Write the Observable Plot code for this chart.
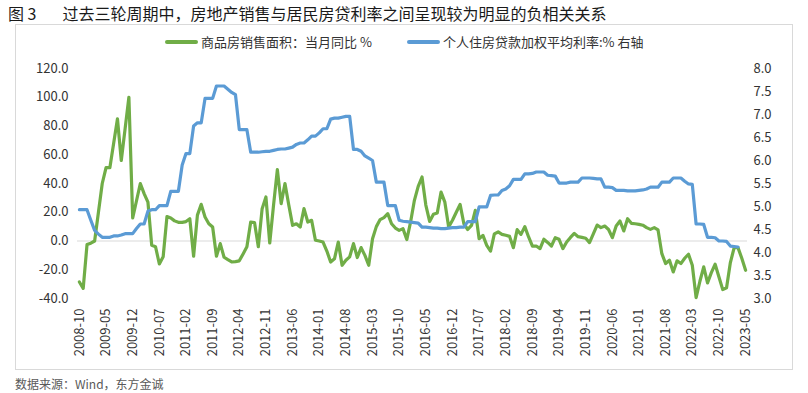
<!DOCTYPE html>
<html>
<head>
<meta charset="utf-8">
<script src="https://cdn.jsdelivr.net/npm/d3@7"></script>
<script src="https://cdn.jsdelivr.net/npm/@observablehq/plot@0.6"></script>
<style>
  html, body { margin: 0; padding: 0; background: #fff; width: 808px; height: 393px; overflow: hidden; }
  body { position: relative; font-family: "Noto Sans CJK SC", "Noto Sans", sans-serif; }
  #title { position: absolute; left: 8px; top: 3px; font-size: 16px; line-height: 20px; color: #1a1a1a; white-space: nowrap; }
  #frame { position: absolute; left: 15px; top: 24px; width: 778px; height: 346px; box-sizing: border-box; border: 1px solid #d9d9d9; }
  #legend { position: absolute; left: 165px; top: 33px; font-size: 13px; line-height: 18px; color: #333; display: flex; align-items: center; white-space: nowrap; }
  .sw { display: inline-block; width: 33px; height: 4px; border-radius: 2px; margin-right: 3px; }
  #chart { position: absolute; left: 0; top: 50px; }
  #source { position: absolute; left: 15px; top: 376px; font-size: 12px; line-height: 15px; color: #595959; white-space: nowrap; }
</style>
</head>
<body>
<div id="title">图 3<span style="margin-left:26px">过去三轮周期中，房地产销售与居民房贷利率之间呈现较为明显的负相关关系</span></div>
<div id="frame"></div>
<div id="legend">
  <span class="sw" style="background:#70AD47"></span><span>商品房销售面积：当月同比 %</span>
  <span class="sw" style="background:#5B9BD5;margin-left:35px"></span><span>个人住房贷款加权平均利率:% 右轴</span>
</div>
<div id="chart"></div>
<div id="source">数据来源：Wind，东方金诚</div>
<script>
// Monthly series, 2008-10 .. 2023-05 (index 0 = 2008-10)
const salesYoY = [
  -28.5,-33,-2.5,-1.5,0,20,40,51,51,68,
  85,56,78,100,16,28,40,33,27,-3,
  -4,-16,-11,17,16,14,13,13,13.5,15.5,
  -10.6,18,25.5,16.7,12,9.7,-10.6,-1.8,-11.3,-13,
  -14.6,-14.3,-13.8,-9,-4,13.2,12.8,-4,22.5,30.6,
  -1.4,25,49.7,26,40,25,10.9,12,9.7,22.5,
  13.2,14.4,0.5,0,-0.7,-7,-14.6,-12.4,-0.7,-16.9,
  -13.4,-11,-1.8,-11.5,-4.6,-10,-16.9,1.6,10,14.9,
  16.3,19,12,9,7.4,8.6,1,13.2,28.3,38,
  44.5,25,13.6,18.6,19.5,34,27,9.7,14.4,20,
  25.5,12,8,10.9,21.3,1.6,3.9,-3,-7,5,
  6.3,4.6,4,3.2,-4.6,7.9,4.6,10,2.8,-3.5,
  -3.5,-5.3,1.2,-1,-3.5,2.3,1.2,-5.3,-0.7,2.5,
  5.3,3,2.5,1.9,-1.1,5,11.1,9.3,10.4,8,
  2.3,10.4,13.9,7,15.5,12.3,12,11.6,11,9.3,
  8.1,9.3,7.7,-8.8,-15.7,-13.4,-21.5,-13.8,-15.7,-12,
  -9.2,-16.9,-39.4,-28,-18,-29.2,-22,-16.2,-25,-33.8,
  -32.5,-15,-4.6,-4.6,-12,-20.4
];
// Mortgage weighted average rate (%), 2008-10 .. 2023-03
const mortgageRate = [
  4.93,4.93,4.93,4.70,4.48,4.40,4.33,4.33,4.33,4.36,
  4.36,4.38,4.41,4.41,4.41,4.52,4.62,4.62,4.90,4.93,
  4.93,5.02,5.02,5.02,5.33,5.33,5.33,5.90,6.15,6.15,
  6.75,6.82,6.82,7.35,7.35,7.35,7.62,7.62,7.62,7.55,
  7.48,7.43,6.67,6.67,6.67,6.18,6.18,6.18,6.19,6.20,
  6.20,6.22,6.24,6.25,6.25,6.27,6.29,6.35,6.38,6.38,
  6.45,6.53,6.53,6.60,6.69,6.69,6.90,6.92,6.92,6.94,
  6.96,6.96,6.24,6.24,6.20,6.10,6.05,6.00,5.53,5.53,
  5.53,5.02,5.02,5.02,4.70,4.68,4.67,4.66,4.65,4.64,
  4.55,4.55,4.54,4.53,4.53,4.52,4.52,4.53,4.54,4.54,
  4.55,4.55,4.67,4.67,4.67,4.99,4.99,4.99,5.24,5.25,
  5.25,5.35,5.38,5.45,5.59,5.59,5.59,5.71,5.71,5.72,
  5.75,5.75,5.75,5.68,5.67,5.66,5.51,5.51,5.51,5.53,
  5.53,5.53,5.62,5.62,5.62,5.61,5.60,5.60,5.42,5.42,
  5.41,5.35,5.35,5.35,5.34,5.34,5.34,5.35,5.36,5.38,
  5.42,5.42,5.42,5.53,5.53,5.53,5.62,5.62,5.62,5.55,
  5.49,5.48,4.62,4.62,4.61,4.33,4.33,4.32,4.25,4.25,
  4.24,4.14,4.13,4.12
];
const xTickLabels = ["2008-10","2009-05","2009-12","2010-07","2011-02","2011-09","2012-04","2012-11",
  "2013-06","2014-01","2014-08","2015-03","2015-10","2016-05","2016-12","2017-07","2018-02","2018-09",
  "2019-04","2019-11","2020-06","2021-01","2021-08","2022-03","2022-10","2023-05"];
const leftTicks = [-40,-20,0,20,40,60,80,100,120];
const rightTicks = [3.0,3.5,4.0,4.5,5.0,5.5,6.0,6.5,7.0,7.5,8.0];

// right axis (3..8) mapped onto left axis (-40..120)
const toLeft = r => (r - 3) * 32 - 40;
const toRight = l => (l + 40) / 32 + 3;
const tickStep = 7;
const xTickPos = xTickLabels.map((_, k) => k * tickStep);

const chart = Plot.plot({
  width: 808,
  height: 320,
  marginTop: 18,
  marginBottom: 72,
  marginLeft: 77,
  marginRight: 61,
  style: { background: "transparent", fontFamily: "'Noto Sans CJK SC','Noto Sans',sans-serif", fontSize: "13px", color: "#333", overflow: "visible" },
  x: { type: "linear", domain: [-0.5, salesYoY.length - 0.5] },
  y: { domain: [-40, 120] },
  marks: [
    Plot.ruleY([0], { stroke: "#d9d9d9", strokeWidth: 1 }),
    Plot.axisY(leftTicks, { anchor: "left", tickSize: 0, tickPadding: 9, tickFormat: d => d.toFixed(1), label: null, fontSize: 13 }),
    Plot.axisY(rightTicks.map(toLeft), { anchor: "right", tickSize: 0, tickPadding: 6, tickFormat: d => toRight(d).toFixed(1), label: null, fontSize: 13 }),
    Plot.axisX(xTickPos, { anchor: "bottom", tickSize: 0, tickPadding: 10, tickRotate: -90, tickFormat: d => xTickLabels[Math.round(d / tickStep)], label: null, fontSize: 13 }),
    Plot.lineY(salesYoY, { stroke: "#70AD47", strokeWidth: 3.2, strokeLinejoin: "round" }),
    Plot.lineY(mortgageRate, { y: d => toLeft(d), stroke: "#5B9BD5", strokeWidth: 3.2, strokeLinejoin: "round" })
  ]
});
document.getElementById("chart").appendChild(chart);
</script>
</body>
</html>
